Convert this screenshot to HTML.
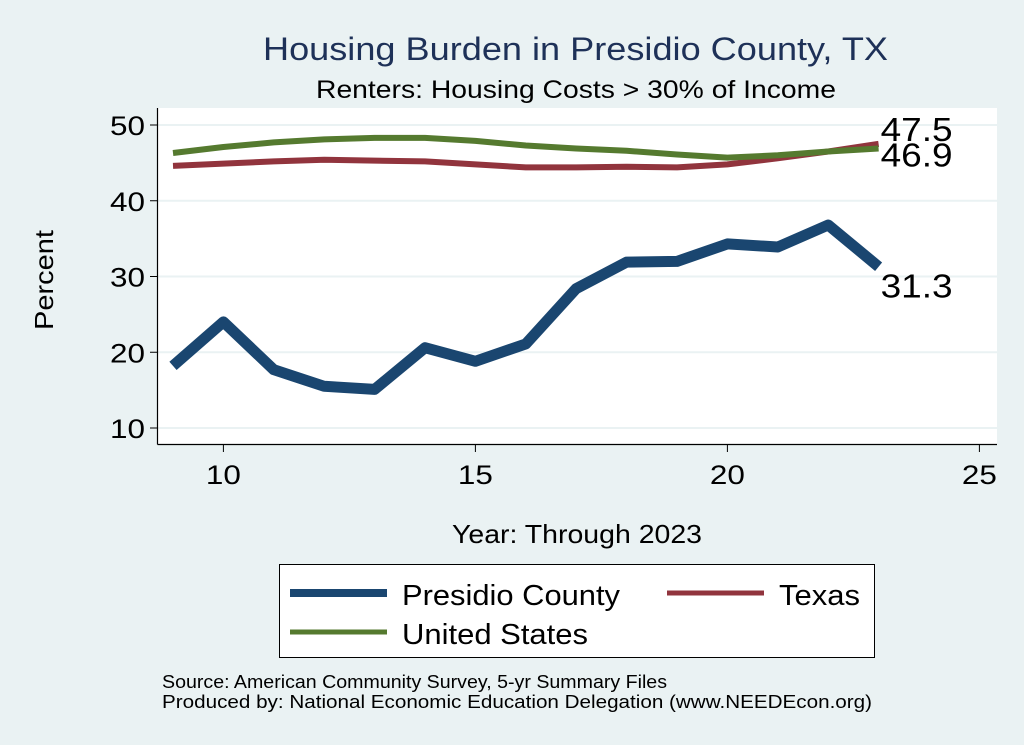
<!DOCTYPE html>
<html><head><meta charset="utf-8"><style>
body{margin:0;background:#eaf2f3;}
svg{display:block;font-family:"Liberation Sans",Arial,sans-serif;}
</style></head><body>
<svg id="c" width="1024" height="745">
<rect x="0" y="0" width="1024" height="745" fill="#eaf2f3"/>
<text x="263" y="60" font-size="32" fill="#1e3158" textLength="625" lengthAdjust="spacingAndGlyphs">Housing Burden in Presidio County, TX</text>
<text x="316" y="98" font-size="25" fill="#000" textLength="520" lengthAdjust="spacingAndGlyphs">Renters: Housing Costs &gt; 30% of Income</text>
<rect x="158" y="108" width="839" height="336" fill="#fff"/>
<g id="grid"></g>
<g id="axes"></g>
<g id="series"></g>
<text x="53" y="280" font-size="26" text-anchor="middle" transform="rotate(-90 53 280)" textLength="100" lengthAdjust="spacingAndGlyphs">Percent</text>
<text x="452" y="543" font-size="26" textLength="250" lengthAdjust="spacingAndGlyphs">Year: Through 2023</text>
<g>
<rect x="279.5" y="564.5" width="595" height="93" fill="#fff" stroke="#000" stroke-width="1"/>
<line x1="290" y1="593" x2="387" y2="593" stroke="#1a4670" stroke-width="8"/>
<text x="402" y="605" font-size="29" textLength="218" lengthAdjust="spacingAndGlyphs">Presidio County</text>
<line x1="667" y1="593" x2="764" y2="593" stroke="#91343d" stroke-width="5"/>
<text x="779" y="605" font-size="29" textLength="81" lengthAdjust="spacingAndGlyphs">Texas</text>
<line x1="290" y1="632" x2="387" y2="632" stroke="#557a2f" stroke-width="5"/>
<text x="402" y="644" font-size="29" textLength="186" lengthAdjust="spacingAndGlyphs">United States</text>
</g>
<text x="162" y="688" font-size="18" textLength="505" lengthAdjust="spacingAndGlyphs">Source: American Community Survey, 5-yr Summary Files</text>
<text x="162" y="708" font-size="18" textLength="710" lengthAdjust="spacingAndGlyphs">Produced by: National Economic Education Delegation (www.NEEDEcon.org)</text>
</svg>
<script>
const years=[9,10,11,12,13,14,15,16,17,18,19,20,21,22,23];
const presidio=[18.2,24.0,17.7,15.5,15.1,20.6,18.8,21.1,28.4,31.9,32.0,34.3,33.9,36.8,31.3];
const texas=[44.6,44.9,45.2,45.4,45.3,45.2,44.8,44.4,44.4,44.5,44.4,44.8,45.6,46.5,47.5];
const usa=[46.3,47.1,47.7,48.1,48.3,48.3,47.9,47.3,46.9,46.6,46.1,45.7,46.0,46.5,46.9];
const xTicks=[10,15,20,25];
const yTicks=[10,20,30,40,50];
const NS="http://www.w3.org/2000/svg";
const X=v=>223.4+(v-10)*50.4;
const Y=v=>428-(v-10)*7.575;
function mk(tag,attrs,parent){const e=document.createElementNS(NS,tag);for(const k in attrs)e.setAttribute(k,attrs[k]);document.getElementById(parent).appendChild(e);return e;}
yTicks.forEach(t=>{
 let g=mk('line',{x1:158,x2:997,y1:Y(t),y2:Y(t),stroke:'#eaf2f3','stroke-width':2},'grid');
 
 
 let tk=mk('line',{x1:150,x2:158,y1:Y(t),y2:Y(t),stroke:'#000','stroke-width':1},'axes');
 
 
 let l=mk('text',{x:145,y:Y(t)+10,'font-size':27,'text-anchor':'end',textLength:35,lengthAdjust:'spacingAndGlyphs'},'axes');l.textContent=t;
 
 
});
xTicks.forEach(t=>{
 let tk=mk('line',{x1:X(t),x2:X(t),y1:444,y2:452,stroke:'#000','stroke-width':1},'axes');
 
 
 let l=mk('text',{x:X(t),y:484,'font-size':27,'text-anchor':'middle',textLength:35,lengthAdjust:'spacingAndGlyphs'},'axes');l.textContent=t;
 
 
});
let ya=mk('line',{x1:157.5,x2:157.5,y1:108,y2:444.5,stroke:'#000','stroke-width':1.2},'axes');


let xa=mk('line',{x1:157.5,x2:997,y1:444.5,y2:444.5,stroke:'#000','stroke-width':1.2},'axes');


function line(vals,color,w,name){
 const d=vals.map((v,i)=>(i?'L':'M')+X(years[i]).toFixed(1)+' '+Y(v).toFixed(1)).join(' ');
 const p=mk('path',{d:d,fill:'none',stroke:color,'stroke-width':w,'stroke-linejoin':'round'},'series');
 
 
}
line(texas,'#91343d',6,'line-texas');
line(usa,'#557a2f',6,'line-united-states');
line(presidio,'#1a4670',11,'line-presidio-county');
const last=years.length-1;
const labs=[[texas[last],-3,'label-texas-last'],[usa[last],18,'label-us-last'],[presidio[last],31,'label-presidio-last']];
labs.forEach(([v,dy,n])=>{
 let t=mk('text',{x:X(years[last])+2,y:Y(v)+dy,'font-size':33,textLength:72,lengthAdjust:'spacingAndGlyphs'},'series');t.textContent=v.toFixed(1);
 
 
});
</script>
</body></html>
